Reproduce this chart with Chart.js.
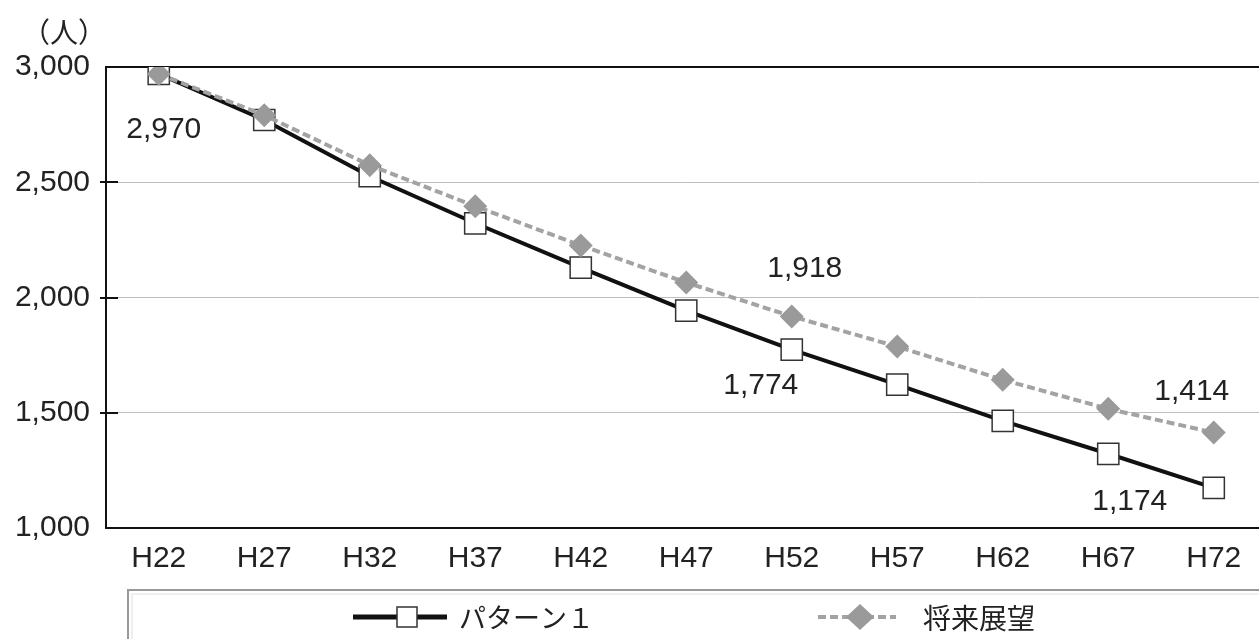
<!DOCTYPE html>
<html>
<head>
<meta charset="utf-8">
<script src="https://cdn.jsdelivr.net/npm/chart.js@4"></script>
<style>
  body { margin: 0; overflow: hidden; background: #fff; }
  #wrap { position: absolute; left: 0; top: 0; width: 1283px; height: 639px; }
</style>
</head>
<body>
<div id="wrap"><canvas id="chart"></canvas></div>
<script>
const labels = ["H22", "H27", "H32", "H37", "H42", "H47", "H52", "H57", "H62", "H67", "H72"];
const pattern1 = [2970, 2770, 2526, 2322, 2130, 1943, 1774, 1622, 1465, 1322, 1174];
const vision = [2970, 2791, 2574, 2396, 2226, 2065, 1918, 1787, 1643, 1517, 1414];
const yTicks = [1000, 1500, 2000, 2500, 3000];
const seriesNames = ["パターン１", "将来展望"];

const FONT = "'Liberation Sans', Arial, sans-serif";
const JP = "'Noto Sans CJK JP', sans-serif";

// which values get a number printed next to them (ds 0 = 将来展望, ds 1 = パターン１)
let valueLabels = [
    { ds: 1, i: 0, dx: 5, dy: 56 },
    { ds: 0, i: 6, dx: 13, dy: -48 },
    { ds: 1, i: 6, dx: -31, dy: 36 },
    { ds: 0, i: 10, dx: -22, dy: -41 },
    { ds: 1, i: 10, dx: -84, dy: 14 }
];

const extras = {
    id: "extras",
    afterDatasetsDraw(chart) {
        const ctx = chart.ctx;
        const y = chart.scales.y;
        ctx.save();

        // little tick marks across the left axis
        ctx.strokeStyle = "#111";
        ctx.lineWidth = 2;
        yTicks.slice(1, -1).forEach(v => {
            let py = Math.round(y.getPixelForValue(v));
            ctx.beginPath();
            ctx.moveTo(y.right - 6, py);
            ctx.lineTo(y.right + 12, py);
            ctx.stroke();
        });

        ctx.fillStyle = "#222";
        ctx.font = "30px " + FONT;
        ctx.textAlign = "center";
        ctx.textBaseline = "middle";
        valueLabels.forEach(l => {
            let pt = chart.getDatasetMeta(l.ds).data[l.i];
            let v = chart.data.datasets[l.ds].data[l.i];
            ctx.fillText(v.toLocaleString("en-US"), pt.x + l.dx, pt.y + l.dy);
        });

        // unit
        ctx.font = "28px " + JP;
        ctx.fillText("（人）", 64, 32);

        // legend box
        ctx.strokeStyle = "#999";
        ctx.lineWidth = 2;
        ctx.strokeRect(128, 590, 1200, 80);
        ctx.strokeStyle = "#e0e0e0";
        ctx.lineWidth = 1;
        ctx.strokeRect(132, 594, 1190, 80);

        const ly = 617;
        // パターン１
        let p = chart.data.datasets[1];
        ctx.strokeStyle = p.borderColor;
        ctx.lineWidth = 5;
        ctx.beginPath();
        ctx.moveTo(353, ly);
        ctx.lineTo(447, ly);
        ctx.stroke();
        ctx.fillStyle = "#fff";
        ctx.strokeStyle = "#333";
        ctx.lineWidth = 1.5;
        ctx.fillRect(397, ly - 10, 20, 20);
        ctx.strokeRect(397, ly - 10, 20, 20);
        ctx.fillStyle = "#222";
        ctx.font = "27px " + JP;
        ctx.textAlign = "left";
        ctx.fillText(seriesNames[0], 459, ly + 1);

        // 将来展望
        let q = chart.data.datasets[0];
        ctx.strokeStyle = q.borderColor;
        ctx.lineWidth = 4;
        ctx.setLineDash(q.borderDash);
        ctx.beginPath();
        ctx.moveTo(818, ly);
        ctx.lineTo(896, ly);
        ctx.stroke();
        ctx.setLineDash([]);
        ctx.fillStyle = q.pointBackgroundColor;
        ctx.beginPath();
        ctx.moveTo(860, ly - 13);
        ctx.lineTo(874, ly);
        ctx.lineTo(860, ly + 13);
        ctx.lineTo(846, ly);
        ctx.closePath();
        ctx.fill();
        ctx.fillStyle = "#222";
        ctx.font = "28px " + JP;
        ctx.fillText(seriesNames[1], 923, ly + 1);
        ctx.restore();
    }
};

new Chart(document.getElementById("chart"), {
    type: "line",
    data: {
        labels: labels,
        datasets: [
            {
                label: seriesNames[1],
                data: vision,
                borderColor: "#a3a3a3",
                borderWidth: 4,
                borderDash: [8, 4],
                pointStyle: "rectRot",
                pointRadius: 12,
                pointBackgroundColor: "#9a9a9a",
                pointBorderColor: "#9a9a9a",
                pointBorderWidth: 0,
                tension: 0
            },
            {
                label: seriesNames[0],
                data: pattern1,
                borderColor: "#111",
                borderWidth: 4,
                pointStyle: "rect",
                pointRadius: 15,
                pointBackgroundColor: "#fff",
                pointBorderColor: "#333",
                pointBorderWidth: 1.5,
                tension: 0,
                order: 1
            }
        ]
    },
    options: {
        responsive: true,
        maintainAspectRatio: false,
        animation: false,
        devicePixelRatio: 1,
        layout: { padding: { top: 67, left: 0, right: 0, bottom: 61 } },
        plugins: {
            legend: { display: false },
            tooltip: { enabled: false }
        },
        scales: {
            x: {
                offset: true,
                afterFit: s => { s.height = 50; },
                grid: { display: false, drawTicks: false },
                border: { color: "#111", width: 2 },
                ticks: { color: "#222", padding: 13, font: { size: 30, family: FONT } }
            },
            y: {
                min: 1000,
                max: 3000,
                afterFit: s => { s.width = 106; },
                afterBuildTicks: s => { s.ticks = yTicks.map(v => ({ value: v })); },
                grid: {
                    drawTicks: false,
                    color: c => (c.tick.value === 3000 || c.tick.value === 1000) ? "#111" : "#bdbdbd",
                    lineWidth: c => (c.tick.value === 3000) ? 2 : 1
                },
                border: { color: "#111", width: 2 },
                ticks: {
                    color: "#222",
                    padding: 16,
                    font: { size: 30, family: FONT },
                    callback: v => v.toLocaleString("en-US")
                }
            }
        }
    },
    plugins: [extras]
});
</script>
</body>
</html>
